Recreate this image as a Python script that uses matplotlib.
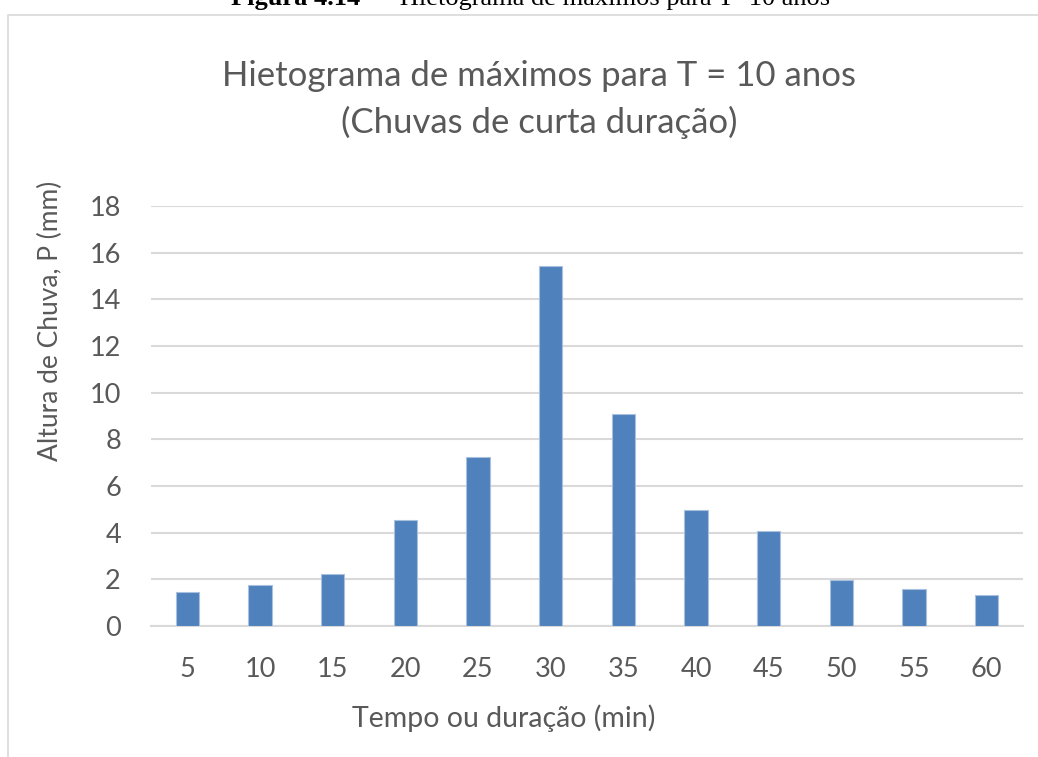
import matplotlib
matplotlib.use("Agg")
import matplotlib.pyplot as plt
from matplotlib.patches import Rectangle

categories = ["5", "10", "15", "20", "25", "30", "35", "40", "45", "50", "55", "60"]
values = [1.46, 1.76, 2.25, 4.54, 7.24, 15.43, 9.09, 4.97, 4.07, 1.98, 1.60, 1.34]
yticks = [0, 2, 4, 6, 8, 10, 12, 14, 16, 18]

title_lines = ["Hietograma de máximos para T = 10 anos", "(Chuvas de curta duração)"]
xlabel = "Tempo ou duração (min)"
ylabel = "Altura de Chuva, P (mm)"
caption_bold = "Figura 4.14"
caption_rest = "  –  Hietograma de máximos para T=10 anos"

plt.rcParams['font.family'] = ['Lato', 'DejaVu Sans']
W, H = 1038, 757
fig = plt.figure(figsize=(W / 100, H / 100), dpi=100)

def fy(py):
    return 1 - py / H

TXT = "#595959"

# chart border
fig.patches.append(Rectangle((8 / W, -0.05), 1.2, 1.05 - 15 / H,
                             transform=fig.transFigure, fill=False,
                             edgecolor="#d9d9d9", linewidth=1.2))
# cut-off caption
fig.text(360 / W, fy(5.5), caption_bold, ha="right", va="baseline",
         fontfamily="Liberation Serif", fontweight="bold", fontsize=19, color="black")
fig.text(360 / W, fy(5.5), caption_rest, ha="left", va="baseline",
         fontfamily="Liberation Serif", fontsize=19, color="black")

ax = fig.add_axes([151 / W, fy(626), (1023 - 151) / W, (626 - 206) / H])
x = list(range(len(categories)))
ax.bar(x, values, width=0.32, color="#4f81bd", edgecolor="#a9c0de", linewidth=0.8, zorder=3)
ax.set_xlim(-0.5, len(categories) - 0.5)
ax.set_ylim(0, 18)
ax.set_yticks(yticks)
ax.set_xticks(x)
ax.set_xticklabels(categories)
ax.tick_params(axis="both", length=0, labelsize=19.5, labelcolor=TXT)
ax.tick_params(axis="x", pad=22)
ax.tick_params(axis="y", pad=21.6)
ax.grid(axis="y", color="#d9d9d9", linewidth=1.5, zorder=0)
for s in ["top", "right", "left"]:
    ax.spines[s].set_visible(False)
ax.spines["bottom"].set_color("#d9d9d9")
ax.spines["bottom"].set_linewidth(1.5)

fig.text(504 / W, fy(727), xlabel, ha="center", va="baseline", fontsize=20.5, color=TXT)
fig.text(50 / W, fy(321), ylabel, ha="center", va="center", rotation=90,
         fontsize=19, color=TXT)

fig.text(539 / W, fy(86), title_lines[0], ha="center", va="baseline", fontsize=25, color=TXT)
fig.text(539 / W, fy(133), title_lines[1], ha="center", va="baseline", fontsize=25, color=TXT)

fig.savefig("out.png", dpi=100)
